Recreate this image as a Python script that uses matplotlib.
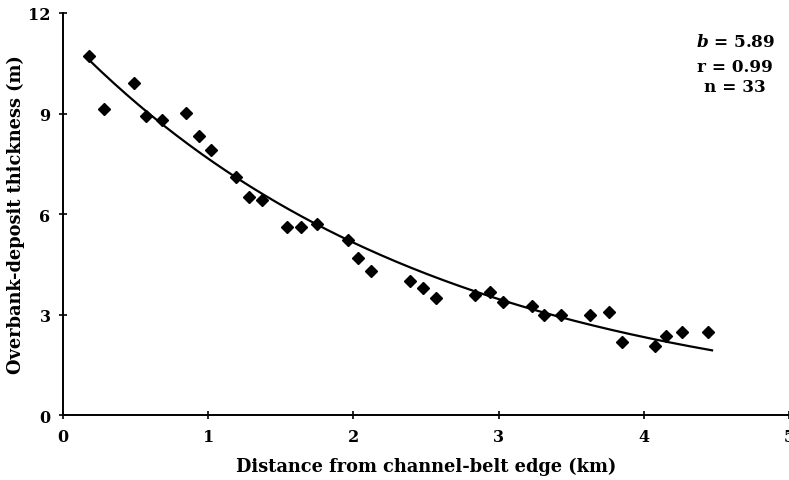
import numpy as np
import matplotlib
matplotlib.use("Agg")
import matplotlib.pyplot as plt

# distance from channel-belt edge (km) and overbank-deposit thickness (m)
distance = [0.18, 0.28, 0.49, 0.57, 0.68, 0.85, 0.94, 1.02, 1.19, 1.28, 1.37,
            1.54, 1.64, 1.75, 1.96, 2.03, 2.12, 2.39, 2.48, 2.57, 2.84, 2.94,
            3.03, 3.23, 3.31, 3.43, 3.63, 3.76, 3.85, 4.08, 4.15, 4.26, 4.44]
thickness = [10.72, 9.13, 9.91, 8.93, 8.81, 9.01, 8.33, 7.91, 7.10, 6.51, 6.42,
             5.61, 5.61, 5.70, 5.22, 4.69, 4.30, 4.00, 3.79, 3.49, 3.58, 3.67,
             3.37, 3.25, 2.99, 2.99, 2.99, 3.07, 2.18, 2.06, 2.36, 2.48, 2.48]
x_ticks = [0, 1, 2, 3, 4, 5]
y_ticks = [0, 3, 6, 9, 12]

plt.rcParams["font.family"] = "DejaVu Serif"
plt.rcParams["font.weight"] = "bold"
plt.rcParams["mathtext.fontset"] = "dejavuserif"

fig = plt.figure(figsize=(7.89, 4.81), dpi=100)
ax = fig.add_axes([0.0798, 0.1351, 0.9202, 0.8358])

# exponential fit (log-linear, weighted to mimic least squares on y)
slope, intercept = np.polyfit(distance, np.log(thickness), 1, w=np.array(thickness))
xf = np.linspace(min(distance), 4.47, 200)
ax.plot(xf, np.exp(intercept + slope * xf), color="black", lw=1.6)

ax.plot(distance, thickness, "D", color="black", markersize=6.5, linestyle="none")

ax.set_xlim(0, 5)
ax.set_ylim(0, 12)
ax.set_xticks(x_ticks)
ax.set_yticks(y_ticks)
ax.spines["top"].set_visible(False)
ax.spines["right"].set_visible(False)
ax.spines["left"].set_linewidth(1.4)
ax.spines["bottom"].set_linewidth(1.4)
ax.tick_params(direction="inout", length=6, width=1.2, labelsize=11.5, pad=6)
for lbl in ax.get_xticklabels() + ax.get_yticklabels():
    lbl.set_fontweight("bold")

ax.set_xlabel("Distance from channel-belt edge (km)", fontsize=12.8, fontweight="bold", labelpad=9)
ax.set_ylabel("Overbank-deposit thickness (m)", fontsize=12.8, fontweight="bold", labelpad=2)

ax.text(0.926, 0.930, r"$\mathbfit{b}$ = 5.89", transform=ax.transAxes,
        ha="center", va="center", fontsize=12.2, fontweight="bold")
ax.text(0.926, 0.868, "r = 0.99", transform=ax.transAxes,
        ha="center", va="center", fontsize=12.2, fontweight="bold")
ax.text(0.926, 0.816, "n = 33", transform=ax.transAxes,
        ha="center", va="center", fontsize=12.2, fontweight="bold")

fig.savefig("out.png", dpi=100)
